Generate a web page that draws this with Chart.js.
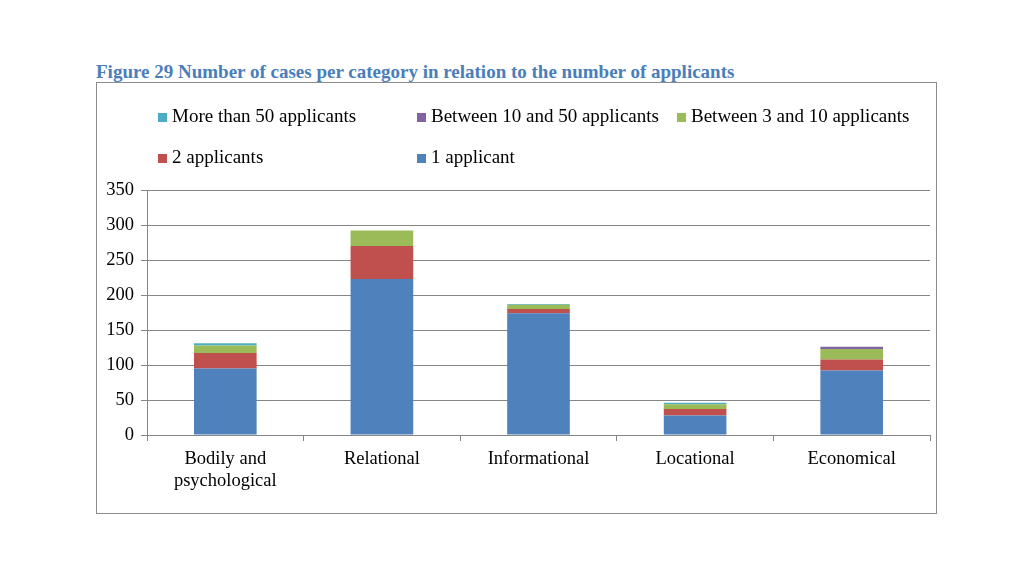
<!DOCTYPE html>
<html>
<head>
<meta charset="utf-8">
<script src="https://cdn.jsdelivr.net/npm/chart.js@4/dist/chart.umd.min.js"></script>
<style>
  body { margin: 0; background: #fff; font-family: "Liberation Serif", serif; }
  #title { position: absolute; left: 96px; top: 61px; color: #4a7ebb; font-weight: bold; font-size: 19px; white-space: nowrap; }
  #box { position: absolute; left: 96px; top: 82px; width: 839px; height: 430px; border: 1px solid #8c8c8c; }
  #legend { position: absolute; left: 0; top: 0; width: 100%; height: 100px; }
  .item { position: absolute; font-size: 19px; color: #000; white-space: nowrap; }
  .item span.sw { display: inline-block; width: 9px; height: 9px; margin-right: 5px; }
</style>
</head>
<body>
<div id="title">Figure 29 Number of cases per category in relation to the number of applicants</div>
<div id="box">
  <canvas id="chart" width="839" height="430"></canvas>
  <div id="legend"></div>
</div>
<script>
const categories = [["Bodily and", "psychological"], "Relational", "Informational", "Locational", "Economical"];
const oneApplicant = [95, 223, 174, 28, 92];
const twoApplicants = [22, 47, 6, 9, 16];
const between3and10 = [11, 22, 6, 7, 15];
const between10and50 = [0, 0, 0, 0, 3];
const moreThan50 = [3, 0, 1, 2, 0];

const seriesNames = ["1 applicant", "2 applicants", "Between 3 and 10 applicants", "Between 10 and 50 applicants", "More than 50 applicants"];
const seriesColors = ["#4F81BD", "#C0504D", "#9BBB59", "#8064A2", "#4BACC6"];
const seriesValues = [oneApplicant, twoApplicants, between3and10, between10and50, moreThan50];

const datasets = seriesValues.map((vals, i) => ({
    label: seriesNames[i],
    data: vals,
    backgroundColor: seriesColors[i],
    borderWidth: 0,
    barPercentage: 0.4,
    categoryPercentage: 1
}));

// legend laid out like the original: 3 columns, reversed order
const colX = [61, 320, 580];
const rowY = [22, 63];
const legend = document.getElementById("legend");
for (let i = 0; i < seriesValues.length; i++) {
    const order = seriesValues.length - 1 - i;
    const d = document.createElement("div");
    d.className = "item";
    const col = i < 3 ? i : i - 3;
    const row = i < 3 ? 0 : 1;
    d.style.left = colX[col] + "px";
    d.style.top = rowY[row] + "px";
    d.innerHTML = '<span class="sw" style="background:' + seriesColors[order] + '"></span>' + seriesNames[order];
    legend.appendChild(d);
}

const tickFont = { family: "Liberation Serif", size: 18.5 };
const ctx = document.getElementById("chart").getContext("2d");
new Chart(ctx, {
    type: "bar",
    data: { labels: categories, datasets: datasets },
    options: {
        responsive: false,
        animation: false,
        layout: { padding: { top: 107, right: 6, left: 0, bottom: 0 } },
        plugins: { legend: { display: false }, tooltip: { enabled: false } },
        scales: {
            x: {
                stacked: true,
                afterFit: (s) => { s.height = 78; },
                grid: { display: true, drawOnChartArea: false, offset: true, tickLength: 6, color: "#868686" },
                border: { color: "#868686" },
                ticks: { color: "#000", font: tickFont, padding: 7, maxRotation: 0 }
            },
            y: {
                stacked: true,
                min: 0,
                max: 350,
                afterFit: (s) => { s.width = 50; },
                grid: { color: "#868686", tickLength: 6 },
                border: { color: "#868686" },
                ticks: { stepSize: 50, color: "#000", font: tickFont, padding: 7 }
            }
        }
    }
});
</script>
</body>
</html>
